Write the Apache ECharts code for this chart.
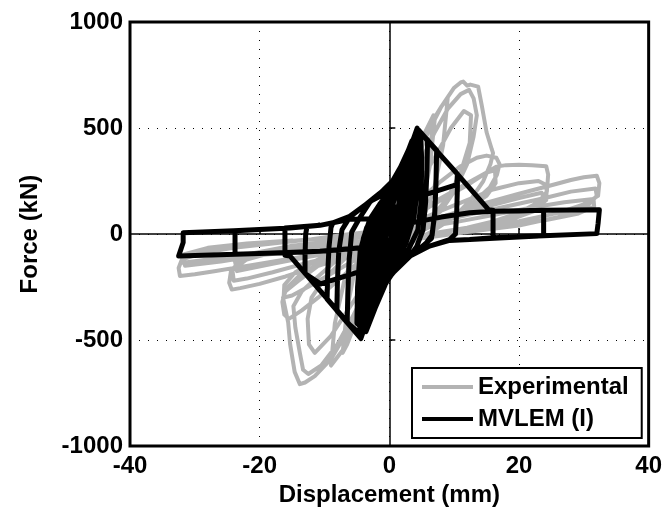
<!DOCTYPE html>
<html>
<head>
<meta charset="utf-8">
<script src="https://cdn.jsdelivr.net/npm/echarts@6/dist/echarts.min.js"></script>
<style>
  html, body { margin: 0; padding: 0; background: #fff; }
  #chart { width: 665px; height: 512px; }
</style>
</head>
<body>
<div id="chart"></div>
<script>
// axis ticks
const xTicks = [-40, -20, 0, 20, 40]
const yTicks = [-1000, -500, 0, 500, 1000]

// Experimental hysteresis, [displacement (mm), force (kN)]
const expSmall = [
  [0,0],[0.6,80],[1.3,160],[2,230],[1.7,120],[1.2,30],[0.3,-40],[-0.8,-120],[-1.6,-190],[-2.1,-240],[-1.8,-120],[-1.2,-30],[-0.3,40],
  [0.8,140],[1.6,220],[2.2,260],[1.9,130],[1.2,20],[0,-70],[-1.2,-160],[-2.2,-260],[-1.9,-130],[-1.2,-20],[0,70],
  [1.2,180],[2.4,290],[3.3,370],[4,420],[3.6,260],[2.8,100],[1.5,10],[0,-70],[-1.5,-160],[-2.8,-280],[-3.6,-370],[-4.1,-410],[-3.7,-250],[-2.9,-90],[-1.6,0],[0,80],
  [1.5,200],[3,330],[4,400],[3.6,240],[2.6,70],[1,-20],[-1,-110],[-2.6,-250],[-4,-390],[-3.6,-230],[-2.6,-60],[-1,30]
]
const expMid = [
  [1,130],[2.5,260],[4,380],[5.5,480],[6.8,560],[6.2,360],[5,150],[3,30],[0.5,-50],[-2,-150],[-3.5,-270],[-5,-400],[-6.5,-520],[-7.2,-560],[-6.5,-350],[-5.2,-150],[-3,-30],[-0.5,50],
  [1.5,160],[3.5,320],[5.5,470],[7,540],[6.3,330],[5,120],[2.5,10],[0,-60],[-2.5,-180],[-4.5,-350],[-6.5,-500],[-7,-520],[-6.3,-300],[-4.8,-100],[-2.5,10],[0,90],
  [2,200],[4,360],[6,500],[8,600],[9,640],[8.3,420],[6.8,200],[5,60],[2,-20],[0,-80],[-3,-230],[-5,-390],[-7,-540],[-9,-620],[-8.4,-420],[-6.8,-200],[-5,-70],[-2,10],[0,70]
]
const expPeak = [
  [2,190],[4,340],[6,480],[8,600],[10,690],[11,715],[11.4,719],[12,700],[12.5,705],[13.7,695],[14.3,600],[15,480],[15.8,400],[16,382],
  [15.6,330],[14.5,250],[12.5,160],[10,80],[7,20],[4,-30],[1,-90],[-1.5,-170],[-4,-320],[-6.5,-460],[-9,-590],[-11.5,-670],[-13,-700],[-13.8,-708],[-14.6,-650],
  [-15.3,-520],[-15.6,-418],[-16.4,-300],[-16,-270],[-14,-220],[-11,-150],[-8,-80],[-5,-20],[-2,40],
  [1,120],[3,230],[5,350],[7,480],[9,590],[11,660],[12.3,680],[13,640],[13.5,560],[13,460],[12,330],[10,200],[8,110],[5,30],[2,-40],[-1,-120],[-3,-230],[-5.5,-380],[-8,-520],[-10.5,-620],[-12.5,-660],[-13.3,-640],[-13.8,-560],[-14.5,-440],[-14.8,-340],[-13.5,-270],[-11,-200],[-8,-120],[-5,-50],[-2,20],
  [1,90],[4,210],[7,360],[9.5,500],[11.5,580],[12.6,560],[12.4,430],[11,290],[9,170],[6,60],[3,-20],[0,-90],[-3,-200],[-6,-340],[-9,-480],[-11.5,-560],[-12.4,-520],[-12.6,-400],[-12,-300],[-10,-210],[-7,-120],[-4,-40],[-1,30]
]
const expLarge = [
  [2,90],[5,170],[8,250],[11,320],[13.5,360],[15,370],[16.5,360],[17,330],[16.6,280],[15.5,220],[13,150],[10,90],[6,30],[2,-30],[-2,-80],[-5,-140],[-8,-220],[-11,-300],[-13.5,-360],[-15.5,-400],[-16.2,-380],[-16.5,-320],[-16,-260],[-14,-200],[-11,-140],[-7,-80],[-3,-20],
  [1,40],[4,100],[8,170],[12,240],[15,290],[16.3,300],[16.4,240],[15,180],[12,120],[8,60],[4,10],[0,-40],[-4,-100],[-8,-170],[-12,-240],[-15,-290],[-16.3,-300],[-16.2,-240],[-14.5,-180],[-11,-120],[-7,-70],[-3,-20],
  [0,30],[4,90],[8,160],[12,230],[15,290],[16.5,318],[18,325],[20,327],[22,325],[24.2,320],[24.5,280],[24.3,200],[23,150],[20,100],[16,60],[12,30],[8,10],[4,-20],[0,-55],[-4,-90],[-8,-120],[-12,-160],[-16,-200],[-20,-235],[-23,-255],[-24.3,-262],[-24.7,-230],[-24.4,-170],[-23,-130],[-19,-90],[-14,-60],[-9,-40],[-4,-10],
  [0,20],[4,60],[8,110],[12,160],[16,210],[20,240],[23,250],[24.3,230],[24.2,160],[22,110],[18,70],[12,30],[6,0],[0,-50],[-6,-90],[-12,-130],[-18,-180],[-22,-210],[-24,-220],[-24.2,-170],[-22,-120],[-16,-70],[-10,-40],[-4,-10],
  [0,15],[5,45],[10,85],[15,130],[20,170],[23.5,195],[24,160],[22.5,110],[18,60],[12,20],[6,-10],[0,-45],[-6,-75],[-12,-105],[-18,-140],[-23.5,-175],[-23.8,-130],[-21,-90],[-15,-55],[-8,-30],[-2,-5],
  [2,30],[8,80],[14,140],[20,190],[25,230],[28,255],[30,268],[32,275],[32.4,240],[32.2,180],[30,140],[26,100],[20,60],[14,30],[8,5],[2,-30],[-4,-60],[-10,-90],[-16,-120],[-22,-150],[-27,-175],[-30,-190],[-32.3,-198],[-32.5,-160],[-32,-120],[-29,-90],[-24,-65],[-18,-45],[-12,-25],[-6,0],
  [0,20],[6,50],[12,90],[18,130],[24,170],[28,200],[31.8,215],[32,180],[30.5,130],[26,80],[20,40],[12,10],[4,-25],[-4,-50],[-12,-75],[-20,-100],[-26,-130],[-31.5,-150],[-31.8,-120],[-30,-90],[-25,-60],[-18,-40],[-10,-20],[-2,0],
  [4,25],[10,55],[16,90],[22,125],[27,150],[31.5,165],[31.6,130],[29,95],[24,65],[18,40],[10,15],[2,-15],[-6,-40],[-14,-65],[-22,-95],[-28,-120],[-31.8,-135],[-31.6,-95],[-28,-65],[-22,-45],[-15,-30]
]

// MVLEM (I) model, [displacement (mm), force (kN)]
const mvlemSmall = [
  [0,0],[0.4,70],[0.8,130],[0.7,60],[0.3,-20],[-0.4,-90],[-0.8,-140],[-0.7,-60],[-0.3,20],
  [0.3,110],[0.9,180],[1.6,250],[1.5,150],[1.1,50],[0.4,-50],[-0.5,-130],[-1.1,-200],[-1.6,-255],[-1.5,-150],[-1.1,-50],[-0.4,50],
  [0.4,150],[1.2,230],[1.8,290],[2.4,335],[2.3,220],[1.9,90],[1.1,-10],[0.1,-110],[-0.9,-200],[-1.7,-280],[-2.4,-345],[-2.3,-230],[-1.9,-100],[-1.1,10],[-0.1,110],
  [1.0,210],[2.0,300],[2.7,360],[3.2,405],[3.1,280],[2.7,130],[2.0,20],[1.0,-70],[0,-165],[-1.0,-250],[-2.0,-325],[-2.7,-375],[-3.2,-410],[-3.1,-290],[-2.7,-140],[-2.0,-25],[-1.0,65],[0,165],
  [1.2,260],[2.4,340],[3.6,430],[3.5,300],[3.2,150],[2.6,30],[1.5,-60],[0.3,-150],[-1,-240],[-2.3,-330],[-3.6,-430],[-3.5,-300],[-3.2,-150],[-2.6,-30],[-1.5,60],[-0.3,150]
]
const mvlemPeak = [
  [1.0,250],[2.0,310],[2.6,350],[3.5,430],[4.3,500],
  [4.2,360],[4.0,200],[3.6,60],[2.6,-40],[1.3,-120],[0.1,-183],[-1.5,-270],[-3.0,-371],[-3.8,-440],[-4.4,-493],
  [-4.3,-360],[-4.1,-200],[-3.7,-60],[-2.7,40],[-1.4,120],[-0.2,190],
  [1.5,300],[3.0,400],[4.0,470],[3.4,300],[2.4,100],[1.0,-20],[-0.5,-120],[-2,-260],[-3.5,-400],[-4.6,-470],[-4.4,-300],[-3.8,-120],[-2.8,10],[-1.2,110],[0.3,200],[2,320],[3.5,440],
  [4.8,440],[4.5,250],[3.8,80],[2.5,-30],[1,-110],[-0.8,-200],[-2.5,-330],[-4,-450],[-5,-420],[-4.9,-250],[-4.5,-80],[-3.5,30],[-2,110],[-0.5,170],[1.5,260],[3,380],[4.8,470],
  [5.0,350],[4.9,150],[4.4,20],[3,-70],[1.5,-140],[-0.5,-230],[-2.2,-350],[-3.6,-460],[-4.8,-320],[-4.6,-150],[-4.0,-20],[-3,70],[-1.5,140],[0.5,220],[2.2,330],[3.8,450],
  [4.2,330],[3.9,160],[3.2,20],[2,-60],[0.5,-130],[-1.2,-220],[-2.8,-350],[-4.1,-460],[-4.0,-330],[-3.6,-160],[-3,-30],[-2,60],[-0.5,140],[1,220],[2.7,340],[4.2,460]
]
const mvlemSoft = [
  [4.5,485],[5.9,444],
  [5.8,300],[5.6,150],[5.2,20],[4.2,-60],[3.0,-110],[1.5,-150],[0,-195],[-1.5,-280],[-3.0,-375],[-4.5,-470],[-6.5,-418],
  [-6.4,-280],[-6.2,-120],[-5.8,10],[-4.6,75],[-3.0,150],[-1.0,205],[0.5,250],[2.0,330],[3.5,425],[4.6,488],[7.3,395],
  [7.2,250],[7.0,100],[6.6,-5],[5.5,-50],[3.2,-104],[1.5,-150],[0,-205],[-2.0,-310],[-3.6,-410],[-4.6,-485],[-8.1,-361],
  [-8.0,-220],[-7.8,-80],[-7.3,20],[-6.1,80],[-4.0,130],[-2.0,180],[0,228],[2.0,320],[3.6,430],[4.5,490],[7.3,395],
  [7.2,240],[7.0,90],[6.5,-20],[5.0,-60],[3.2,-104],[0.1,-183],[-2.0,-300],[-3.6,-415],[-4.5,-488],[-9.6,-307],
  [-9.5,-180],[-9.3,-60],[-9.0,30],[-8.7,53],[-6.1,84],[-3.0,154],[0.1,228],[2.6,350],[4.3,495],[10.5,283],
  [10.5,220],[10.4,110],[10.2,0],[9.3,-26],[6.2,-57],[3.2,-104],[0,-200],[-4.7,-178],[-10.6,-235],[-13.0,-186]
]
const mvlemLarge = [
  [-13.0,-100],[-12.9,0],[-12.7,35],[-10.7,41],[-8.7,53],[-6.1,84],[-3.0,154],[0,200],[4.7,178],[10.4,233],[10.5,283],[15.3,115],[16.0,112],
  [16.0,50],[16.0,-20],[12.4,-26],[9.3,-30],[6.2,-57],[3.2,-104],[0.1,-183],[-3.0,-371],[-4.4,-488],[-15.3,-104],[-16.1,-100],
  [-16.1,-30],[-16.1,28],[-10.7,41],[-8.7,53],[-6.1,70],[-3.0,72],[0,62],[3.6,54],[8.0,80],[12.4,100],[16.0,107],[20.0,109],[23.8,112],
  [23.8,50],[23.8,-8],[16.0,-18],[12.4,-26],[9.3,-30],[6.2,-57],[3.2,-90],[0,-85],[-3.6,-62],[-8.0,-75],[-10.7,-81],[-16.0,-88],[-20.0,-92],[-23.8,-95],
  [-23.8,-40],[-23.8,15],[-15.3,29],[-10.7,41],[-8.7,53],[-6.1,70],[-3.0,72],[0,62],[3.6,54],[8.0,80],[12.4,100],[16.0,107],[23.8,112],[32.4,115],
  [32.2,50],[32.0,2],[23.8,-8],[12.4,-26],[9.3,-30],[6.2,-57],[3.2,-90],[0,-85],[-3.6,-62],[-10.7,-81],[-20.0,-92],[-32.5,-104],
  [-31.8,-40],[-31.8,6],[-24.0,15],[-15.3,29],[-10.7,41],[-8.7,53]
]

const experimental = expSmall.concat(expMid, expPeak, expLarge)
const mvlem = mvlemSmall.concat(mvlemPeak, mvlemSoft, mvlemLarge)

const font = "'Liberation Sans', Arial, sans-serif"
const textStyle = { fontFamily: font, fontSize: 24, fontWeight: 'bold', color: '#000' }

const chart = echarts.init(document.getElementById('chart'))
chart.setOption({
  animation: false,
  backgroundColor: '#fff',
  grid: {
    left: 130,
    right: 16,
    top: 22,
    bottom: 65,
    show: true,
    borderColor: '#000',
    borderWidth: 3
  },
  legend: {
    orient: 'vertical',
    left: 412,
    top: 368,
    padding: [7, 13, 7, 10],
    itemGap: 8,
    itemWidth: 51,
    itemHeight: 4,
    icon: 'rect',
    backgroundColor: '#fff',
    borderColor: '#000',
    borderWidth: 2,
    textStyle: textStyle,
    data: ['Experimental', 'MVLEM (I)']
  },
  xAxis: {
    type: 'value',
    min: xTicks[0],
    max: xTicks[xTicks.length - 1],
    interval: 20,
    name: 'Displacement (mm)',
    nameLocation: 'middle',
    nameGap: 35,
    nameTextStyle: textStyle,
    axisLine: { show: false },
    axisTick: { show: true, inside: true, length: 6, lineStyle: { color: '#000', width: 1.5 } },
    axisLabel: Object.assign({ margin: 8, formatter: v => String(v) }, textStyle),
    splitLine: { show: true, lineStyle: { color: '#000', width: 1, type: [1, 8] } }
  },
  yAxis: {
    type: 'value',
    min: yTicks[0],
    max: yTicks[yTicks.length - 1],
    interval: 500,
    name: 'Force (kN)',
    nameLocation: 'middle',
    nameGap: 88,
    nameTextStyle: textStyle,
    axisLine: { show: false },
    axisTick: { show: true, inside: true, length: 6, lineStyle: { color: '#000', width: 1.5 } },
    axisLabel: Object.assign({ margin: 7, formatter: v => String(v) }, textStyle),
    splitLine: { show: true, lineStyle: { color: '#000', width: 1, type: [1, 8] } }
  },
  series: [{
    name: 'Experimental',
    type: 'line',
    z: 2,
    data: experimental,
    symbol: 'none',
    showSymbol: false,
    lineStyle: { color: '#b3b3b3', width: 4, join: 'round', cap: 'round' },
    itemStyle: { color: '#b3b3b3' },
    markLine: {
      silent: true,
      z: 1,
      symbol: 'none',
      label: { show: false },
      lineStyle: { color: '#000', width: 1.5, type: 'solid' },
      data: [{ xAxis: 0 }, { yAxis: 0 }]
    }
  }, {
    name: 'MVLEM (I)',
    type: 'line',
    z: 3,
    data: mvlem,
    symbol: 'none',
    showSymbol: false,
    lineStyle: { color: '#000', width: 5, join: 'round', cap: 'round' },
    itemStyle: { color: '#000' }
  }]
})
</script>
</body>
</html>
